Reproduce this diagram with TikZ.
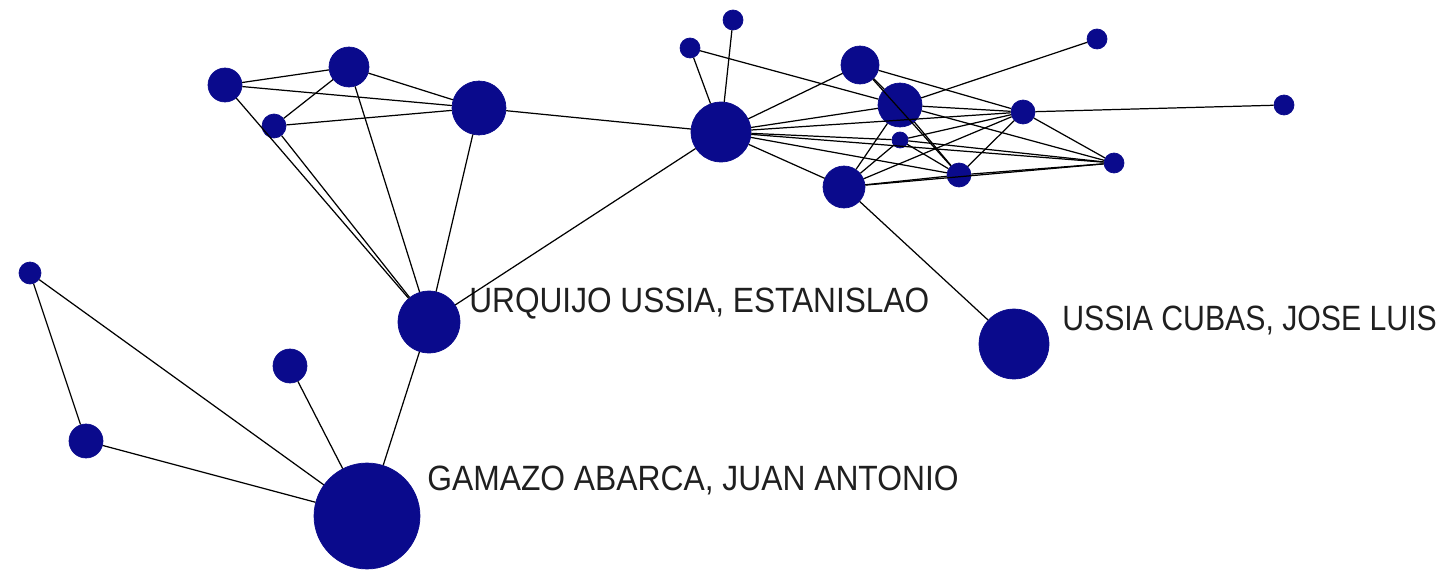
\documentclass[tikz,border=0pt]{standalone}
\usepackage{fontspec}
\usepackage{graphicx}
\newfontfamily\labelfont{Liberation Sans}
\usetikzlibrary{positioning}
\definecolor{netblue}{HTML}{0A0A8C}

\tikzset{
  actor/.style={circle, fill=netblue, draw=netblue, inner sep=0pt,
                minimum size=#1*0.04cm},
  tie/.style={draw=black, line width=0.7pt},
  actorname/.style={anchor=base west, inner sep=0pt, text=black!88,
               font=\labelfont\fontsize{20}{22}\selectfont}
}

\begin{document}
\begin{tikzpicture}[x=0.02cm, y=-0.02cm]
    \useasboundingbox (0,0) rectangle (1447,571);

    % left group
    \node[actor=17] (a1) at (225, 85) {};
    \node[actor=20] (a2) at (349, 67) {};
    \node[actor=12] (a3) at (274, 126) {};
    \node[actor=27] (a4) at (479, 108) {};
    \node[actor=31] (urq) at (429, 322) {};
    \node[actor=53] (gam) at (367, 516) {};
    \node[actor=11] (p1) at (30, 273) {};
    \node[actor=17] (p2) at (86, 441) {};
    \node[actor=17] (p3) at (290, 366) {};

    % right group
    \node[actor=30] (hub) at (721, 132) {};
    \node[actor=10] (t1) at (690, 48) {};
    \node[actor=10] (t2) at (733, 20) {};
    \node[actor=19] (n1) at (860, 65) {};
    \node[actor=22] (n2) at (900, 105) {};
    \node[actor=8]  (n3) at (900, 140) {};
    \node[actor=12] (n4) at (1023, 112) {};
    \node[actor=10] (n5) at (1114, 163) {};
    \node[actor=12] (n6) at (959, 175) {};
    \node[actor=21] (n7) at (844, 187) {};
    \node[actor=10] (n8) at (1097, 39) {};
    \node[actor=10] (n9) at (1284, 105) {};
    \node[actor=35] (uss) at (1014, 344) {};

    % names
    \node[actorname] (urqname) at (469, 312) {\scalebox{0.90}[1]{URQUIJO USSIA, ESTANISLAO}};
    \node[actorname] (ussname) at (1062, 330) {\scalebox{0.86}[1]{USSIA CUBAS, JOSE LUIS}};
    \node[actorname] (gamname) at (427, 490) {\scalebox{0.905}[1]{GAMAZO ABARCA, JUAN ANTONIO}};

    \draw[tie] (a1) -- (a2);
    \draw[tie] (a1) -- (a4);
    \draw[tie] (a1) -- (urq);
    \draw[tie] (a3) -- (urq);
    \draw[tie] (a2) -- (a3);
    \draw[tie] (a2) -- (a4);
    \draw[tie] (a3) -- (a4);
    \draw[tie] (a2) -- (urq);
    \draw[tie] (a4) -- (urq);
    \draw[tie] (a4) -- (hub);
    \draw[tie] (urq) -- (hub);
    \draw[tie] (urq) -- (gam);
    \draw[tie] (p1) -- (p2);
    \draw[tie] (p1) -- (gam);
    \draw[tie] (p2) -- (gam);
    \draw[tie] (p3) -- (gam);

    \draw[tie] (hub) -- (t1);
    \draw[tie] (hub) -- (t2);
    \draw[tie] (t1) -- (n2);
    \foreach \n in {n1, n2, n3, n4, n5, n6, n7}
      \draw[tie] (hub) -- (\n);
    \draw[tie] (n1) -- (n2);
    \draw[tie] (n1) -- (n4);
    \draw[tie] (n1) -- (n6);
    \draw[tie] (n2) -- (n8);
    \draw[tie] (n2) -- (n4);
    \draw[tie] (n2) -- (n5);
    \draw[tie] (n2) -- (n6);
    \draw[tie] (n2) -- (n7);
    \draw[tie] (n3) -- (n7);
    \draw[tie] (n3) -- (n4);
    \draw[tie] (n3) -- (n5);
    \draw[tie] (n3) -- (n6);
    \draw[tie] (n4) -- (n9);
    \draw[tie] (n4) -- (n6);
    \draw[tie] (n4) -- (n5);
    \draw[tie] (n4) -- (n7);
    \draw[tie] (n6) -- (n5);
    \draw[tie] (n6) -- (n7);
    \draw[tie] (n7) -- (n5);
    \draw[tie] (n7) -- (uss);
\end{tikzpicture}
\end{document}
